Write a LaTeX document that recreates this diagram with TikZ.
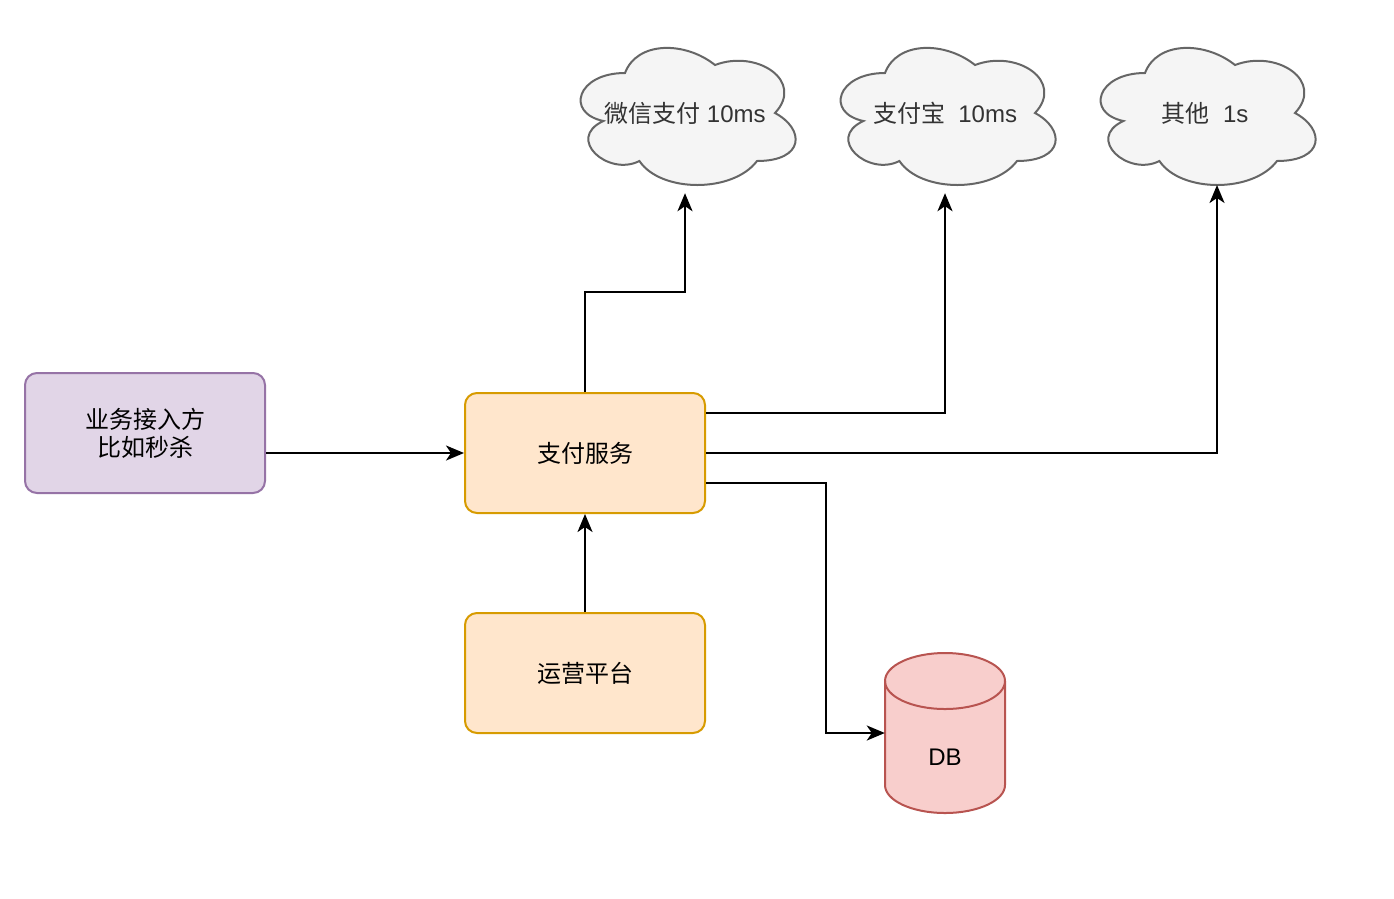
\documentclass[tikz,border=0pt]{standalone}
\usepackage{fontspec}
\setmainfont{Liberation Sans}
\newfontfamily\cjk{Noto Sans CJK SC}
\usetikzlibrary{arrows.meta,calc}
\definecolor{purF}{HTML}{E1D5E7}
\definecolor{purD}{HTML}{9673A6}
\definecolor{orF}{HTML}{FFE6CC}
\definecolor{orD}{HTML}{D79B00}
\definecolor{redF}{HTML}{F8CECC}
\definecolor{redD}{HTML}{B85450}
\definecolor{gryF}{HTML}{F5F5F5}
\definecolor{gryD}{HTML}{666666}
\definecolor{txtG}{HTML}{333333}
\newcommand{\cloudshape}[2]{%
  \begin{scope}[shift={(#1,#2)},x=240pt,y=-160pt]
  \filldraw[fill=gryF,draw=gryD,line width=2pt]
    (0.25,0.25) .. controls (0.05,0.25) and (0,0.5) .. (0.16,0.55)
    .. controls (0,0.66) and (0.18,0.9) .. (0.31,0.8)
    .. controls (0.4,1) and (0.7,1) .. (0.8,0.8)
    .. controls (1,0.8) and (1,0.6) .. (0.875,0.5)
    .. controls (1,0.3) and (0.8,0.1) .. (0.625,0.2)
    .. controls (0.5,0.05) and (0.3,0.05) .. (0.25,0.25) -- cycle;
  \end{scope}}
\tikzset{
  box/.style={rectangle,rounded corners=12pt,minimum width=240pt,minimum height=120pt,line width=2pt,inner sep=0pt,align=center,font=\fontsize{24}{28}\selectfont\cjk},
  purbox/.style={box,fill=purF,draw=purD},
  orbox/.style={box,fill=orF,draw=orD},
  cloudbox/.style={rectangle,minimum width=240pt,minimum height=160pt,inner sep=0pt,text=txtG,font=\fontsize{24}{28}\selectfont},
  conn/.style={line width=2.2pt,-{Stealth[length=18pt,width=15pt,inset=5pt]}}
}
\begin{document}
\begin{tikzpicture}[x=1pt,y=-1pt]
\useasboundingbox (0,0) rectangle (1394,898);
\fill[white] (0,0) rectangle (1394,898);
% clouds
\cloudshape{565}{33}
\cloudshape{825}{33}
\cloudshape{1085}{33}
\node[cloudbox] (c1) at (685,113) {{\cjk 微信支付} 10ms};
\node[cloudbox] (c2) at (945,113) {{\cjk 支付宝}\ \ 10ms};
\node[cloudbox] (c3) at (1205,113) {{\cjk 其他}\ \ 1s};
\coordinate (c3e) at (1217,185);
% boxes
\node[purbox] (src) at (145,433) {业务接入方\\比如秒杀};
\node[orbox] (pay) at (585,453) {支付服务};
\node[orbox] (ops) at (585,673) {运营平台};
% DB cylinder
\filldraw[fill=redF,draw=redD,line width=2pt]
  (885,681) -- (885,785) arc[start angle=180,end angle=0,x radius=60,y radius=28]
  -- (1005,681) arc[start angle=0,end angle=-180,x radius=60,y radius=28] -- cycle;
\draw[redD,line width=2pt] (885,681) arc[start angle=180,end angle=0,x radius=60,y radius=28];
\node[minimum width=120pt,minimum height=160pt,inner sep=0pt] (db) at (945,733) {};
\node[font=\fontsize{24}{28}\selectfont] (dbl) at (945,757) {DB};
% connectors
\draw[conn] (src.east |- pay.west) -- (pay.west);
\draw[conn] (pay.north) -- ++(0,-100) -| (c1.south);
\draw[conn] ($(pay.east)+(0,-40)$) -| (c2.south);
\draw[conn] (pay.east) -| (c3e);
\draw[conn] ($(pay.east)+(0,30)$) -- ++(120,0) |- (db.west);
\draw[conn] (ops.north) -- (pay.south);
\end{tikzpicture}
\end{document}
